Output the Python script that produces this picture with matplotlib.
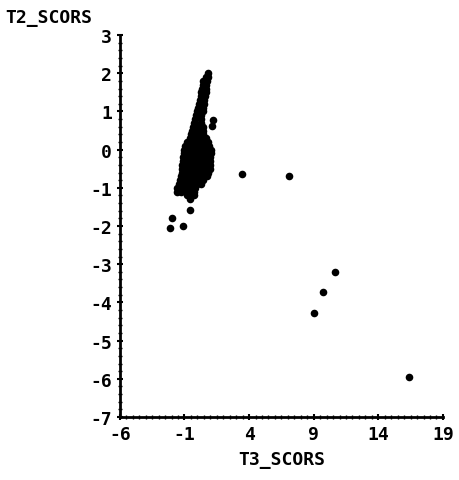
import matplotlib
matplotlib.use("Agg")
from matplotlib import pyplot as plt
from matplotlib.ticker import MultipleLocator

plt.rcParams['axes.unicode_minus'] = False
plt.rcParams['font.family'] = ['DejaVu Sans Mono', 'DejaVu Sans']
plt.rcParams['font.weight'] = 'bold'

# main cluster, read row by row (T2 level, then T3 values along that row)
cluster_rows = [
    (2.00, [0.85]),
    (1.90, [0.70, 0.85]),
    (1.80, [0.45, 0.75]),
    (1.70, [0.40, 0.70]),
    (1.60, [0.35, 0.70]),
    (1.50, [0.30, 0.65]),
    (1.40, [0.25, 0.60]),
    (1.30, [0.20, 0.55]),
    (1.20, [0.15, 0.50]),
    (1.10, [0.05, 0.45]),
    (1.00, [0.00, 0.40]),
    (0.90, [-0.10, 0.30]),
    (0.80, [-0.15, 0.30]),
    (0.70, [-0.25, 0.30]),
    (0.60, [-0.30, 0.10, 0.45]),
    (0.50, [-0.40, 0.00, 0.45]),
    (0.40, [-0.50, -0.10, 0.40]),
    (0.30, [-0.60, -0.20, 0.20, 0.70]),
    (0.20, [-0.80, -0.40, 0.00, 0.40, 0.85]),
    (0.10, [-0.95, -0.60, -0.25, 0.10, 0.45, 0.90]),
    (0.00, [-1.05, -0.70, -0.35, 0.00, 0.35, 0.70, 1.05]),
    (-0.10, [-1.05, -0.70, -0.35, 0.00, 0.35, 0.70, 1.05]),
    (-0.20, [-1.10, -0.75, -0.40, -0.05, 0.30, 0.65, 1.00]),
    (-0.30, [-1.10, -0.75, -0.40, -0.05, 0.30, 0.65, 1.00]),
    (-0.40, [-1.15, -0.80, -0.45, -0.10, 0.25, 0.60, 0.95]),
    (-0.50, [-1.15, -0.80, -0.45, -0.10, 0.25, 0.60, 0.95]),
    (-0.60, [-1.20, -0.85, -0.50, -0.15, 0.20, 0.55, 0.85]),
    (-0.70, [-1.25, -0.90, -0.55, -0.20, 0.15, 0.50, 0.75]),
    (-0.80, [-1.35, -1.00, -0.65, -0.30, 0.05, 0.40]),
    (-0.90, [-1.45, -1.10, -0.75, -0.40, -0.05, 0.25]),
    (-1.00, [-1.55, -1.20, -0.85, -0.50, -0.15]),
    (-1.10, [-1.60, -1.25, -0.90, -0.55, -0.25]),
    (-1.20, [-0.80, -0.50, -0.25]),
    (-1.30, [-0.60]),
]

# scattered observations away from the cluster
outlier_t3 = [1.20, 1.12, -0.58, -1.98, -2.13, -1.12, 3.44, 7.08, 10.64, 9.71, 9.02, 16.37]
outlier_t2 = [0.77, 0.62, -1.58, -1.79, -2.05, -2.00, -0.64, -0.69, -3.20, -3.73, -4.28, -5.95]

x_ticks = [-6, -1, 4, 9, 14, 19]
y_ticks = [3, 2, 1, 0, -1, -2, -3, -4, -5, -6, -7]

t3_scors = [x for y, xs in cluster_rows for x in xs] + outlier_t3
t2_scors = [y for y, xs in cluster_rows for x in xs] + outlier_t2

fig = plt.figure(figsize=(4.59, 4.81), dpi=100)
ax = fig.add_axes([0.261, 0.131, 0.704, 0.794])

ax.scatter(t3_scors, t2_scors, s=30, c='black', marker='o', linewidths=0)

ax.set_xlim(-6, 19)
ax.set_ylim(-7, 3)
ax.set_xticks(x_ticks)
ax.set_yticks(y_ticks)
ax.xaxis.set_minor_locator(MultipleLocator(0.5))
ax.yaxis.set_minor_locator(MultipleLocator(0.2))

for side in ['top', 'right']:
    ax.spines[side].set_visible(False)
for side in ['left', 'bottom']:
    ax.spines[side].set_linewidth(2)

ax.tick_params(which='major', direction='inout', length=5, width=1.5, labelsize=13, pad=3)
ax.tick_params(which='minor', direction='inout', length=3, width=1)

ax.set_xlabel('T3_SCORS', fontsize=13, fontweight='bold', labelpad=5)
fig.text(0.012, 0.962, 'T2_SCORS', fontsize=13, fontweight='bold', ha='left', va='center')

fig.savefig('out.png', dpi=100)
